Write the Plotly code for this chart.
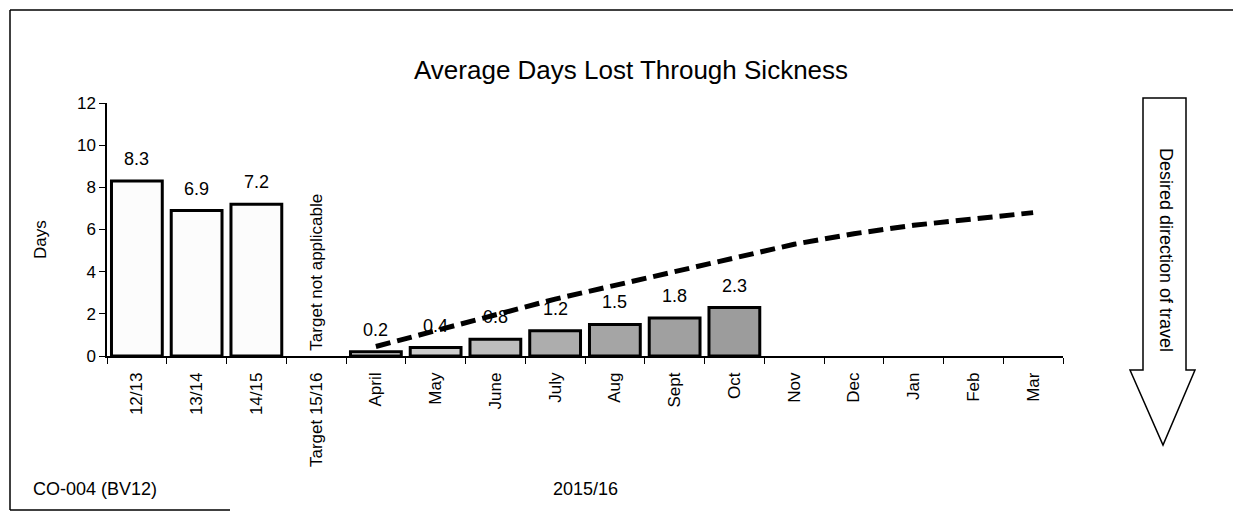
import plotly.graph_objects as go

categories = ["12/13", "13/14", "14/15", "Target 15/16", "April", "May", "June",
              "July", "Aug", "Sept", "Oct", "Nov", "Dec", "Jan", "Feb", "Mar"]
past_years = ["12/13", "13/14", "14/15"]
past_values = [8.3, 6.9, 7.2]
months_actual = ["April", "May", "June", "July", "Aug", "Sept", "Oct"]
month_values = [0.2, 0.4, 0.8, 1.2, 1.5, 1.8, 2.3]
month_colors = ["#dcdcdc", "#cdcdcd", "#bebebe", "#adadad", "#a5a5a5", "#a0a0a0", "#9c9c9c"]
target_months = ["April", "May", "June", "July", "Aug", "Sept", "Oct", "Nov",
                 "Dec", "Jan", "Feb", "Mar"]
target_values = [0.45, 1.2, 1.95, 2.7, 3.35, 4.0, 4.6, 5.3, 5.8, 6.2, 6.5, 6.8]

FONT = "Liberation Sans, Arial, sans-serif"
OFF = 8  # page body margin
W, H = 1241 - OFF, 512 - OFF
L, R, T, B = 107 - OFF, 1063 - OFF, 103 - OFF, 356 - OFF


def px(x):
    return (x - OFF - L) / (R - L)


def py(y):
    return (B - (y - OFF)) / (B - T)


fig = go.Figure()
fig.add_trace(go.Bar(x=past_years, y=past_values, marker=dict(color="#fcfcfc",
              line=dict(color="black", width=3)), showlegend=False))
fig.add_trace(go.Bar(x=months_actual, y=month_values, marker=dict(color=month_colors,
              line=dict(color="black", width=3)), showlegend=False))
fig.add_trace(go.Scatter(x=target_months, y=target_values, mode="lines",
              line=dict(color="black", width=5, dash="15px,7px"), showlegend=False))

annotations = []
for c, v in zip(past_years + months_actual, past_values + month_values):
    annotations.append(dict(x=c, y=v, xref="x", yref="y", text=f"{v:.1f}", showarrow=False,
                            yanchor="bottom", yshift=10,
                            font=dict(size=18, color="black", family=FONT)))


def note(x, y, text, size, angle=0):
    return dict(x=px(x), y=py(y), xref="paper", yref="paper", text=text, textangle=angle,
                xanchor="center", yanchor="middle", showarrow=False,
                font=dict(size=size, color="black", family=FONT))


annotations += [
    dict(x="Target 15/16", y=0, xref="x", yref="y", text="Target not applicable", textangle=-90,
         xanchor="center", showarrow=False, yanchor="bottom", yshift=3,
         font=dict(size=17, color="black", family=FONT)),
    note(631, 70, "Average Days Lost Through Sickness", 26),
    note(40, 240, "Days", 17, -90),
    note(585, 489, "2015/16", 18),
    note(95, 489, "CO-004 (BV12)", 18),
    note(1166, 250, "Desired direction of travel", 18, 90),
]

arrow_path = (f"M {px(1143)},{py(98)} L {px(1186)},{py(98)} L {px(1186)},{py(370)} "
              f"L {px(1195)},{py(370)} L {px(1163)},{py(445)} L {px(1130)},{py(370)} "
              f"L {px(1143)},{py(370)} Z")
shapes = [
    dict(type="path", path=arrow_path, xref="paper", yref="paper",
         line=dict(color="black", width=1.5), fillcolor="white"),
    dict(type="line", xref="paper", yref="paper", x0=px(10), x1=px(1241), y0=py(10), y1=py(10),
         line=dict(color="black", width=1.5)),
    dict(type="line", xref="paper", yref="paper", x0=px(10), x1=px(10), y0=py(10), y1=py(510),
         line=dict(color="black", width=1.5)),
    dict(type="line", xref="paper", yref="paper", x0=px(10), x1=px(230), y0=py(510), y1=py(510),
         line=dict(color="black", width=1.5)),
]

fig.update_layout(
    width=W, height=H, margin=dict(l=L, r=W - R, t=T, b=H - B, autoexpand=False),
    paper_bgcolor="white", plot_bgcolor="white", bargap=0.15,
    font=dict(family=FONT, size=15, color="black"),
    annotations=annotations, shapes=shapes,
    xaxis=dict(type="category", categoryorder="array", categoryarray=categories,
               tickvals=categories, range=[-0.5, len(categories) - 0.5],
               tickangle=-90, showline=True, linecolor="black", linewidth=1.5,
               ticks="outside", tickson="boundaries", ticklen=6, tickcolor="black",
               ticklabelstandoff=8,
               showgrid=False, automargin=False, tickfont=dict(size=17)),
    yaxis=dict(range=[0, 12], tickvals=[0, 2, 4, 6, 8, 10, 12], showline=True,
               linecolor="black", linewidth=1.5, ticks="outside", ticklen=6,
               tickcolor="black", showgrid=False, zeroline=False, automargin=False,
               tickfont=dict(size=17)),
)

fig.write_html("out.html")
